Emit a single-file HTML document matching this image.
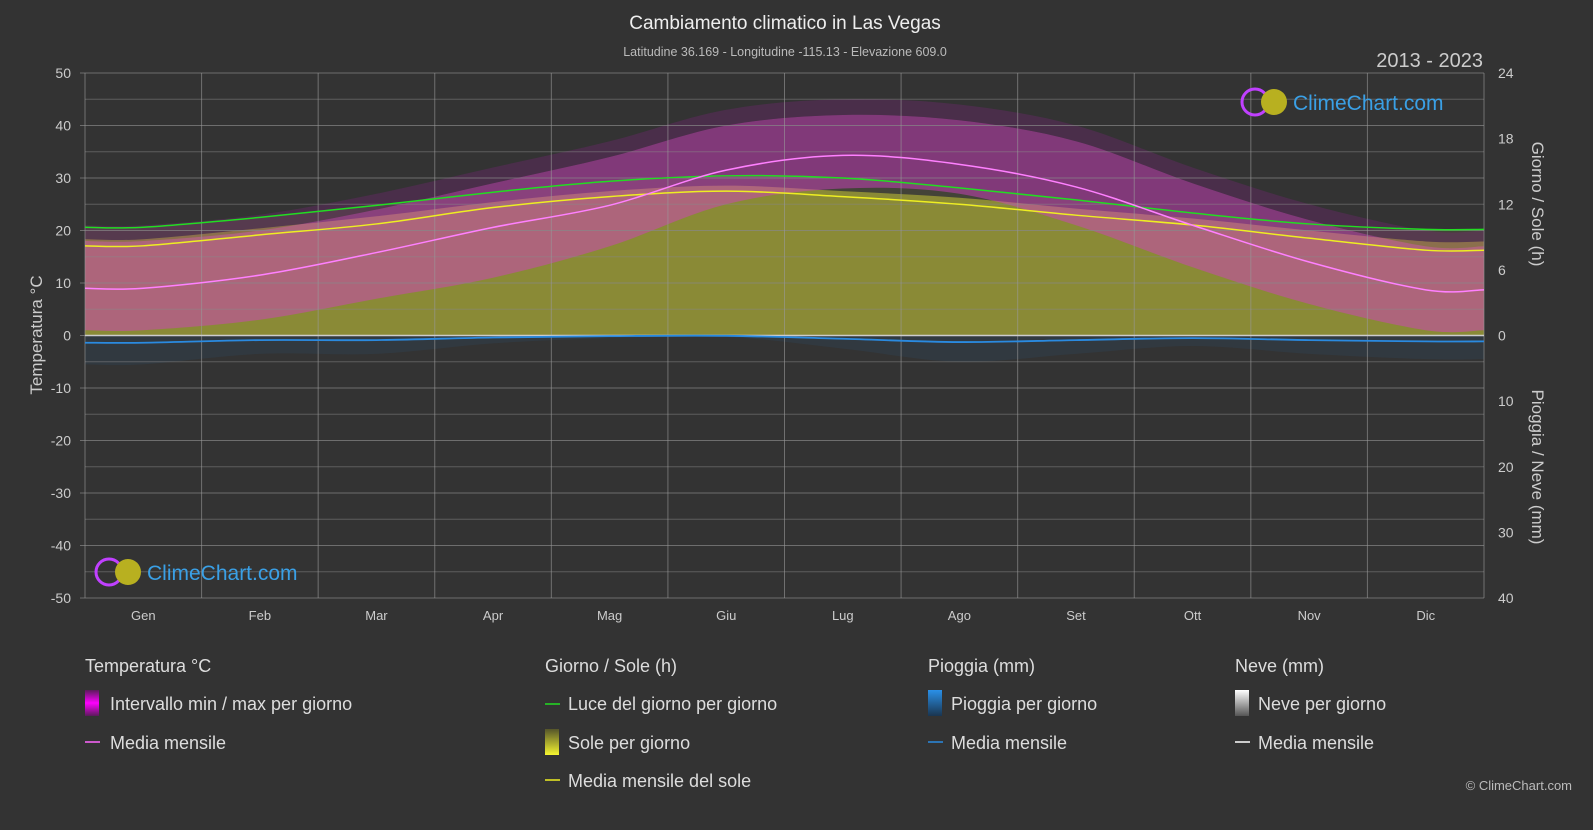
<!DOCTYPE html>
<html><head><meta charset="utf-8">
<style>
html,body{margin:0;padding:0;background:#333333;}
body{width:1593px;height:825px;overflow:hidden;font-family:"Liberation Sans",sans-serif;}
</style></head>
<body>
<svg id="chart" width="1593" height="825" xmlns="http://www.w3.org/2000/svg" font-family="Liberation Sans, sans-serif">
<defs>
<linearGradient id="gMag" x1="0" y1="0" x2="0" y2="1"><stop offset="0" stop-color="#5a1a5a"/><stop offset="0.5" stop-color="#ff00ff"/><stop offset="1" stop-color="#5a1a5a"/></linearGradient>
<linearGradient id="gSun" x1="0" y1="0" x2="0" y2="1"><stop offset="0" stop-color="#55552a"/><stop offset="1" stop-color="#f5f530"/></linearGradient>
<linearGradient id="gRain" x1="0" y1="0" x2="0" y2="1"><stop offset="0" stop-color="#2a90e8"/><stop offset="1" stop-color="#1a3550"/></linearGradient>
<linearGradient id="gSnow" x1="0" y1="0" x2="0" y2="1"><stop offset="0" stop-color="#ffffff"/><stop offset="1" stop-color="#555555"/></linearGradient>
</defs>
<g id="plot"></g>
<text x="785" y="29" fill="#eeeeee" font-size="19" text-anchor="middle">Cambiamento climatico in Las Vegas</text>
<text x="785" y="56" fill="#bbbbbb" font-size="12.5" text-anchor="middle">Latitudine 36.169 - Longitudine -115.13 - Elevazione 609.0</text>
<text x="1483" y="67" fill="#cccccc" font-size="20" text-anchor="end">2013 - 2023</text>
<text transform="translate(42,335) rotate(-90)" fill="#cccccc" font-size="17" text-anchor="middle">Temperatura °C</text>
<text transform="translate(1532,204) rotate(90)" fill="#cccccc" font-size="17" text-anchor="middle">Giorno / Sole (h)</text>
<text transform="translate(1532,467) rotate(90)" fill="#cccccc" font-size="17" text-anchor="middle">Pioggia / Neve (mm)</text>
<g>
<circle cx="1255" cy="102" r="13" fill="none" stroke="#c040ff" stroke-width="3"/><circle cx="1274" cy="102" r="13" fill="#b8b020"/>
<text x="1293" y="110" fill="#3aa0e6" font-size="21">ClimeChart.com</text></g>
<g>
<circle cx="109" cy="572" r="13" fill="none" stroke="#c040ff" stroke-width="3"/><circle cx="128" cy="572" r="13" fill="#b8b020"/>
<text x="147" y="580" fill="#3aa0e6" font-size="21">ClimeChart.com</text></g>
<g id="legend" font-size="18" fill="#dddddd">
<text x="85" y="672">Temperatura °C</text>
<rect x="85" y="690" width="14" height="26" fill="url(#gMag)"/>
<text x="110" y="710">Intervallo min / max per giorno</text>
<line x1="85" y1="742" x2="100" y2="742" stroke="#ff66ff" stroke-width="1.5"/>
<text x="110" y="749">Media mensile</text>
<text x="545" y="672">Giorno / Sole (h)</text>
<line x1="545" y1="704" x2="560" y2="704" stroke="#22dd22" stroke-width="1.5"/>
<text x="568" y="710">Luce del giorno per giorno</text>
<rect x="545" y="729" width="14" height="26" fill="url(#gSun)"/>
<text x="568" y="749">Sole per giorno</text>
<line x1="545" y1="780" x2="560" y2="780" stroke="#eeee22" stroke-width="1.5"/>
<text x="568" y="787">Media mensile del sole</text>
<text x="928" y="672">Pioggia (mm)</text>
<rect x="928" y="690" width="14" height="26" fill="url(#gRain)"/>
<text x="951" y="710">Pioggia per giorno</text>
<line x1="928" y1="742" x2="943" y2="742" stroke="#2a8ae0" stroke-width="1.5"/>
<text x="951" y="749">Media mensile</text>
<text x="1235" y="672">Neve (mm)</text>
<rect x="1235" y="690" width="14" height="26" fill="url(#gSnow)"/>
<text x="1258" y="710">Neve per giorno</text>
<line x1="1235" y1="742" x2="1250" y2="742" stroke="#ffffff" stroke-width="1.5"/>
<text x="1258" y="749">Media mensile</text>
</g>
<text x="1572" y="790" fill="#bbbbbb" font-size="13" text-anchor="end">© ClimeChart.com</text>
</svg>
<script>
const months = ["Gen","Feb","Mar","Apr","Mag","Giu","Lug","Ago","Set","Ott","Nov","Dic"];
const tempMean = [9,11.5,15.8,20.6,24.8,31.5,34.3,32.6,28.3,21,14,8.7];
const tempMax = [18,20,24,29,34,40,42,41,37,29,22,17];
const tempMin = [1,3,7,11,17,25,28,27,21,13,6,1];
const daylight = [9.9,10.8,11.9,13.1,14.1,14.6,14.4,13.5,12.4,11.2,10.2,9.7];
const sunMean = [8.2,9.2,10.2,11.7,12.7,13.2,12.7,12.0,11.0,10.1,8.9,7.8];
const sunTop = [8.8,9.8,10.9,12.2,13.2,13.7,13.2,12.6,11.6,10.7,9.6,8.6];
const rainMean = [1.1,0.7,0.7,0.3,0.1,0.05,0.5,1.0,0.7,0.4,0.7,0.9];
const tempTicks = [50,40,30,20,10,0,-10,-20,-30,-40,-50];
const gridTemps = [45,35,25,15,5,-5,-15,-25,-35,-45];
const hourTicks = [24,18,12,6,0];
const rainTicks = [10,20,30,40];

const X0=85,X1=1484,Y0=73,Y1=598;
const ns="http://www.w3.org/2000/svg";
const plot=document.getElementById('plot');
function yT(t){return Y0+(50-t)/100*(Y1-Y0);}
const yZero=yT(0);
function yH(h){return yZero-h*(yZero-Y0)/24;}
function yR(r){return yZero+r*(Y1-yZero)/40;}
function xM(i){return X0+(i+0.5)*(X1-X0)/12;}
function mk(tag,attrs){const e=document.createElementNS(ns,tag);for(const k in attrs)e.setAttribute(k,attrs[k]);plot.appendChild(e);return e;}
function pts(arr,yf){
  const p=[[X0,yf(arr[0])]];
  arr.forEach((v,i)=>p.push([xM(i),yf(v)]));
  p.push([X1,yf(arr[arr.length-1])]);
  return p;}
function smooth(p){
  let d="M"+p[0][0]+","+p[0][1];
  for(let i=0;i<p.length-1;i++){
    const a=p[Math.max(i-1,0)],b=p[i],c=p[i+1],e=p[Math.min(i+2,p.length-1)];
    const c1=[b[0]+(c[0]-a[0])/6,b[1]+(c[1]-a[1])/6],c2=[c[0]-(e[0]-b[0])/6,c[1]-(e[1]-b[1])/6];
    d+=` C${c1[0]},${c1[1]} ${c2[0]},${c2[1]} ${c[0]},${c[1]}`;}
  return d;}
function revSmooth(p){return smooth(p.slice().reverse()).replace(/^M/,"L");}

mk('rect',{x:X0,y:Y0,width:X1-X0,height:Y1-Y0,fill:'#333333'});
let e=mk('path',{d:smooth(pts(daylight,yH))+` L${X1},${yZero} L${X0},${yZero} Z`,fill:'#4a4a3a',opacity:0.7});

e=mk('path',{d:smooth(pts(sunTop,yH))+` L${X1},${yZero} L${X0},${yZero} Z`,fill:'#8a8a36'});

e=mk('path',{d:smooth(pts(tempMax,yT))+" "+revSmooth(pts(tempMin,yT))+" Z",fill:'#d040c0',opacity:0.5});

e=mk('path',{d:smooth(pts(tempMax.map(v=>v+3),yT))+" "+revSmooth(pts(tempMax,yT))+" Z",fill:'#902090',opacity:0.25});

e=mk('path',{d:smooth(pts(rainMean.map(v=>v*4),yR))+` L${X1},${yZero} L${X0},${yZero} Z`,fill:'#2a4a66',opacity:0.25});


gridTemps.forEach(t=>{const g=mk('line',{x1:X0,x2:X1,y1:yT(t),y2:yT(t),stroke:'#888',"stroke-width":1,opacity:0.5});
  });
tempTicks.forEach(t=>{const g=mk('line',{x1:X0-5,x2:X1,y1:yT(t),y2:yT(t),stroke:'#888',"stroke-width":1,opacity:0.7});
  
  const l=mk('text',{x:X0-14,y:yT(t)+5,fill:'#cccccc',"font-size":14,"text-anchor":"end"});l.textContent=t;
  });
for(let i=0;i<=12;i++){const x=X0+i*(X1-X0)/12;const g=mk('line',{x1:x,x2:x,y1:Y0,y2:Y1,stroke:'#999',"stroke-width":1,opacity:0.6});
  }
months.forEach((m,i)=>{const l=mk('text',{x:xM(i),y:Y1+22,fill:'#cccccc',"font-size":13,"text-anchor":"middle"});l.textContent=m;
  });
hourTicks.forEach(h=>{const l=mk('text',{x:X1+14,y:yH(h)+5,fill:'#cccccc',"font-size":14,"text-anchor":"start"});l.textContent=h;
  });
rainTicks.forEach(r=>{const l=mk('text',{x:X1+14,y:yR(r)+5,fill:'#cccccc',"font-size":14,"text-anchor":"start"});l.textContent=r;
  });

e=mk('line',{x1:X0,x2:X1,y1:yZero,y2:yZero,stroke:'#cccccc',"stroke-width":1.5});

e=mk('path',{d:smooth(pts(daylight,yH)),fill:'none',stroke:'#22dd22',"stroke-width":1.5});

e=mk('path',{d:smooth(pts(sunMean,yH)),fill:'none',stroke:'#eeee22',"stroke-width":1.5});

e=mk('path',{d:smooth(pts(tempMean,yT)),fill:'none',stroke:'#ff80ff',"stroke-width":1.5});

e=mk('path',{d:smooth(pts(rainMean,yR)),fill:'none',stroke:'#2a8ae0',"stroke-width":1.8});

</script>
</body></html>
